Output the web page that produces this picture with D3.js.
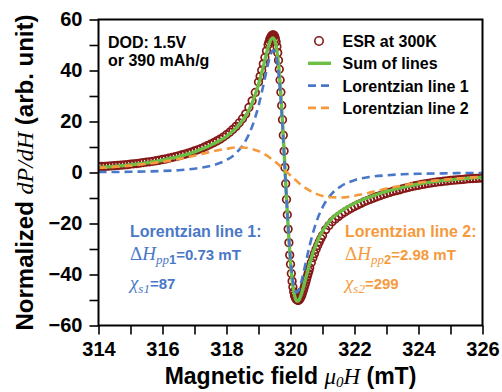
<!DOCTYPE html>
<html>
<head>
<meta charset="utf-8">
<script src="https://cdn.jsdelivr.net/npm/d3@7.8.5/dist/d3.min.js"></script>
<style>
  body { margin: 0; background: #fff; }
  svg { display: block; }
  .axis .tick text { font-family: "Liberation Sans", Arial, Helvetica, sans-serif; font-weight: bold; font-size: 20px; fill: #000; }
  .axis .tick line { stroke: #000; stroke-width: 1.6px; }
  .sans { font-family: "Liberation Sans", Arial, Helvetica, sans-serif; font-weight: bold; }
  .serif { font-family: "Liberation Serif", "Times New Roman", serif; font-weight: normal; }
</style>
</head>
<body>
<svg id="chart" width="502" height="392"></svg>
<script>
// fitted curves (field in mT)
const lineField = [314, 314.5, 315, 315.5, 316, 316.5, 317, 317.5, 318, 318.3, 318.6, 318.8,
  319, 319.1, 319.2, 319.3, 319.35, 319.4, 319.45, 319.5, 319.55, 319.6, 319.65, 319.7, 319.75,
  319.8, 319.85, 319.9, 319.95, 320, 320.05, 320.1, 320.15, 320.2, 320.25, 320.3, 320.35, 320.4,
  320.5, 320.6, 320.8, 321, 321.3, 321.6, 322, 322.5, 323, 323.5, 324, 324.5, 325, 325.5, 326];
const line1 = [0.2, 0.2, 0.3, 0.4, 0.6, 0.9, 1.5, 2.6, 4.9, 7.6, 12.5, 18.0,
  26.1, 31.3, 37.0, 42.7, 45.1, 46.9, 47.9, 47.6, 45.7, 41.9, 36.0, 27.9, 18.1,
  7.0, -4.6, -15.7, -25.6, -33.9, -40.1, -44.2, -46.4, -47.0, -46.3, -44.6, -42.3, -39.7,
  -34.0, -28.6, -19.7, -13.7, -8.2, -5.2, -3.0, -1.7, -1.1, -0.7, -0.5, -0.4, -0.3, -0.2, -0.2];
const line2 = [1.8, 2.2, 2.7, 3.4, 4.2, 5.3, 6.6, 8.1, 9.3, 9.8, 9.7, 9.2,
  8.4, 7.8, 7.1, 6.3, 5.85, 5.4, 4.9, 4.5, 3.95, 3.4, 2.85, 2.3, 1.75,
  1.2, 0.6, 0, -0.6, -1.2, -1.75, -2.3, -2.85, -3.4, -4.0, -4.5, -4.95, -5.4,
  -6.3, -7.1, -8.4, -9.2, -9.7, -9.8, -9.1, -7.8, -6.3, -5.1, -4.0, -3.2, -2.6, -2.1, -1.7];
const lineSum = [2.0, 2.4, 3.0, 3.8, 4.8, 6.2, 8.1, 10.7, 14.2, 17.4, 22.2, 27.2,
  34.5, 39.1, 44.1, 49.0, 51.0, 52.3, 52.8, 52.1, 49.7, 45.3, 38.9, 30.2, 19.9,
  8.2, -4.0, -15.7, -26.2, -35.1, -41.9, -46.5, -49.3, -50.4, -50.3, -49.1, -47.3, -45.1,
  -40.3, -35.7, -28.1, -22.9, -17.9, -15.0, -12.1, -9.5, -7.4, -5.8, -4.5, -3.6, -2.9, -2.3, -1.9];

// measured ESR spectrum at 300 K
const esrField = [
  314.0, 314.1, 314.2, 314.3, 314.4, 314.5, 314.6, 314.7, 314.8, 314.9,
  315.0, 315.1, 315.2, 315.3, 315.4, 315.5, 315.6, 315.7, 315.8, 315.9,
  316.0, 316.1, 316.2, 316.3, 316.4, 316.5, 316.6, 316.7, 316.8, 316.9,
  317.0, 317.1, 317.2, 317.3, 317.4, 317.5, 317.6, 317.7, 317.8, 317.9,
  318.0, 318.1, 318.2, 318.3, 318.4, 318.5, 318.6, 318.7, 318.8, 318.9,
  319.0, 319.05, 319.1, 319.15, 319.2, 319.25,
  319.3, 319.325, 319.35, 319.375, 319.4, 319.425, 319.45, 319.475, 319.5, 319.525,
  319.55, 319.575, 319.6, 319.625, 319.65, 319.675, 319.7, 319.725, 319.75, 319.775,
  319.8, 319.825, 319.85, 319.875, 319.9, 319.925, 319.95, 319.975, 320.0, 320.025,
  320.05, 320.075, 320.1, 320.125, 320.15, 320.175, 320.2, 320.225, 320.25, 320.275,
  320.3, 320.325, 320.35, 320.375, 320.4, 320.425, 320.45, 320.475, 320.5, 320.525,
  320.55, 320.575, 320.6,
  320.65, 320.7, 320.75, 320.8, 320.85, 320.9, 320.95, 321.0,
  321.1, 321.2, 321.3, 321.4, 321.5, 321.6, 321.7, 321.8, 321.9, 322.0,
  322.1, 322.2, 322.3, 322.4, 322.5, 322.6, 322.7, 322.8, 322.9, 323.0,
  323.1, 323.2, 323.3, 323.4, 323.5, 323.6, 323.7, 323.8, 323.9, 324.0,
  324.1, 324.2, 324.3, 324.4, 324.5, 324.6, 324.7, 324.8, 324.9, 325.0,
  325.1, 325.2, 325.3, 325.4, 325.5, 325.6, 325.7, 325.8, 325.9, 326.0];
const esrSignal = [
  2.3, 2.4, 2.4, 2.5, 2.6, 2.7, 2.8, 2.9, 3.0, 3.1,
  3.3, 3.4, 3.5, 3.7, 3.9, 4.1, 4.2, 4.4, 4.6, 4.8,
  5.1, 5.3, 5.6, 5.9, 6.2, 6.5, 6.9, 7.2, 7.6, 8.0,
  8.5, 8.9, 9.4, 9.9, 10.5, 11.1, 11.7, 12.4, 13.1, 13.9,
  14.8, 15.8, 16.9, 18.1, 19.5, 21.1, 23.0, 25.5, 28.1, 31.4,
  35.5, 37.7, 40.1, 42.6, 45.1, 47.7,
  50.1, 51.1, 52.1, 52.8, 53.4, 53.8, 54.0, 53.9, 53.5, 52.6,
  51.3, 49.4, 47.0, 44.0, 40.5, 36.3, 31.5, 26.3, 20.7, 14.6,
  8.4, 2.0, -4.4, -10.6, -16.6, -22.2, -27.5, -32.4, -36.0, -39.6,
  -42.6, -44.9, -46.8, -48.2, -49.0, -49.6, -49.9, -50.1, -50.1, -49.9,
  -49.4, -48.8, -48.1, -47.2, -46.3, -45.2, -44.1, -43.0, -41.9, -40.8,
  -39.6, -38.6, -37.4,
  -35.3, -33.4, -31.8, -30.1, -28.6, -27.2, -25.9, -24.7,
  -22.4, -20.8, -19.3, -18.2, -17.2, -16.3, -15.5, -14.7, -14.0, -13.3,
  -12.7, -12.1, -11.5, -11.0, -10.5, -10.0, -9.5, -9.1, -8.6, -8.2,
  -7.8, -7.4, -7.1, -6.8, -6.4, -6.1, -5.8, -5.5, -5.2, -5.0,
  -4.7, -4.5, -4.3, -4.1, -3.9, -3.7, -3.6, -3.4, -3.3, -3.1,
  -3.0, -2.9, -2.8, -2.7, -2.5, -2.4, -2.35, -2.3, -2.2, -2.1];

const xTicks = [314, 315, 316, 317, 318, 319, 320, 321, 322, 323, 324, 325, 326];
const xLabels = [314, 316, 318, 320, 322, 324, 326];
const yTicks = [-60, -50, -40, -30, -20, -10, 0, 10, 20, 30, 40, 50, 60];
const yLabels = [-60, -40, -20, 0, 20, 40, 60];

const legendLabels = ['ESR at 300K', 'Sum of lines', 'Lorentzian line 1', 'Lorentzian line 2'];

const cRed = '#861818', cGreen = '#6cbf45', cBlue = '#4a78c8', cOrange = '#f59a3c';

const svg = d3.select('#chart');
const x = d3.scaleLinear().domain([314, 326]).range([98.5, 482.5]);
const y = d3.scaleLinear().domain([-60, 60]).range([325.5, 19.5]);

svg.append('rect').attr('width', 502).attr('height', 392).attr('fill', '#fff');

svg.append('clipPath').attr('id', 'plot-clip')
  .append('rect')
  .attr('x', x(314)).attr('y', y(60))
  .attr('width', x(326) - x(314)).attr('height', y(-60) - y(60));

const plot = svg.append('g').attr('clip-path', 'url(#plot-clip)');

// data circles
plot.append('g').selectAll('circle')
  .data(esrSignal)
  .join('circle')
  .attr('cx', (d, i) => x(esrField[i]))
  .attr('cy', d => y(d))
  .attr('r', 3.8)
  .attr('fill', 'none')
  .attr('stroke', cRed)
  .attr('stroke-width', 1.7);

const curve = d3.line()
  .x((d, i) => x(lineField[i]))
  .y(d => y(d))
  .curve(d3.curveMonotoneX);

plot.append('path').datum(lineSum)
  .attr('d', curve).attr('fill', 'none')
  .attr('stroke', cGreen).attr('stroke-width', 3.4);

plot.append('path').datum(line1)
  .attr('d', curve).attr('fill', 'none')
  .attr('stroke', cBlue).attr('stroke-width', 2.6)
  .attr('stroke-dasharray', '8,5');

plot.append('path').datum(line2)
  .attr('d', curve).attr('fill', 'none')
  .attr('stroke', cOrange).attr('stroke-width', 2.6)
  .attr('stroke-dasharray', '8,5');

// axes
const xAxis = d3.axisBottom(x)
  .tickValues(xTicks)
  .tickSize(9).tickPadding(7)
  .tickFormat(d => xLabels.includes(d) ? d : '');
const yAxis = d3.axisLeft(y)
  .tickValues(yTicks)
  .tickSize(9).tickPadding(7)
  .tickFormat(d => yLabels.includes(d) ? d3.format('d')(d) : '');

svg.append('g').attr('class', 'axis')
  .attr('transform', `translate(0,${y(-60)})`)
  .call(xAxis)
  .call(g => g.select('.domain').remove());
svg.append('g').attr('class', 'axis')
  .attr('transform', `translate(${x(314)},0)`)
  .call(yAxis)
  .call(g => g.select('.domain').remove());

svg.append('rect')
  .attr('x', x(314)).attr('y', y(60))
  .attr('width', x(326) - x(314)).attr('height', y(-60) - y(60))
  .attr('fill', 'none').attr('stroke', '#000').attr('stroke-width', 2);

// axis titles
const yTitle = svg.append('text')
  .attr('transform', `translate(33,${(y(60) + y(-60)) / 2}) rotate(-90)`)
  .attr('text-anchor', 'middle')
  .attr('font-size', 24);
yTitle.append('tspan').attr('class', 'sans').text('Normalized ');
yTitle.append('tspan').attr('class', 'serif').attr('font-style', 'italic').text('dP/dH');
yTitle.append('tspan').attr('class', 'sans').text(' (arb. unit)');

const xTitle = svg.append('text')
  .attr('x', (x(314) + x(326)) / 2).attr('y', 384)
  .attr('text-anchor', 'middle')
  .attr('font-size', 23);
xTitle.append('tspan').attr('class', 'sans').text('Magnetic field ');
xTitle.append('tspan').attr('class', 'serif').attr('font-style', 'italic').text('μ');
xTitle.append('tspan').attr('class', 'serif').attr('font-style', 'italic')
  .attr('font-size', 15).attr('dy', 3).text('0');
xTitle.append('tspan').attr('class', 'serif').attr('font-style', 'italic')
  .attr('dy', -3).text('H');
xTitle.append('tspan').attr('class', 'sans').text(' (mT)');

// DOD note
svg.append('text').attr('class', 'sans').attr('font-size', 16)
  .attr('x', 108).attr('y', 48).text('DOD: 1.5V');
svg.append('text').attr('class', 'sans').attr('font-size', 16)
  .attr('x', 108).attr('y', 66).text('or 390 mAh/g');

// legend
const legend = svg.append('g');
legendLabels.forEach((label, i) => {
  const ly = 41 + i * 22.3;
  if (i === 0) {
    legend.append('circle').attr('cx', 319).attr('cy', ly)
      .attr('r', 4.2).attr('fill', 'none')
      .attr('stroke', cRed).attr('stroke-width', 1.6);
  } else {
    legend.append('line')
      .attr('x1', 308).attr('x2', 331).attr('y1', ly).attr('y2', ly)
      .attr('stroke', [cGreen, cBlue, cOrange][i - 1])
      .attr('stroke-width', i === 1 ? 3.4 : 2.6)
      .attr('stroke-dasharray', i === 1 ? null : '8,5');
  }
  legend.append('text').attr('class', 'sans').attr('font-size', 16)
    .attr('x', 342.5).attr('y', ly + 6).text(label);
});

// fit parameters
function fitNote(x0, color, name, idx, width, chi) {
  const g = svg.append('g').attr('fill', color);
  g.append('text').attr('class', 'sans').attr('font-size', 16)
    .attr('x', x0).attr('y', 237).text(name);
  const t1 = g.append('text').attr('x', x0).attr('y', 260);
  t1.append('tspan').attr('class', 'serif').attr('font-size', 19).text('Δ');
  t1.append('tspan').attr('class', 'serif').attr('font-style', 'italic').attr('font-size', 19).text('H');
  t1.append('tspan').attr('class', 'serif').attr('font-style', 'italic').attr('font-size', 13)
    .attr('dy', 4).text('pp');
  t1.append('tspan').attr('class', 'sans').attr('font-size', 13).text(idx);
  t1.append('tspan').attr('class', 'sans').attr('font-size', 15).attr('dy', -4).text('=' + width + ' mT');
  const t2 = g.append('text').attr('x', x0).attr('y', 289);
  t2.append('tspan').attr('class', 'serif').attr('font-style', 'italic').attr('font-size', 19).text('χ');
  t2.append('tspan').attr('class', 'serif').attr('font-style', 'italic').attr('font-size', 13)
    .attr('dy', 4).text('s' + idx);
  t2.append('tspan').attr('class', 'sans').attr('font-size', 15).attr('dy', -4).text('=' + chi);
}
fitNote(130, cBlue, 'Lorentzian line 1:', '1', '0.73', '87');
fitNote(345, cOrange, 'Lorentzian line 2:', '2', '2.98', '299');
</script>
</body>
</html>
